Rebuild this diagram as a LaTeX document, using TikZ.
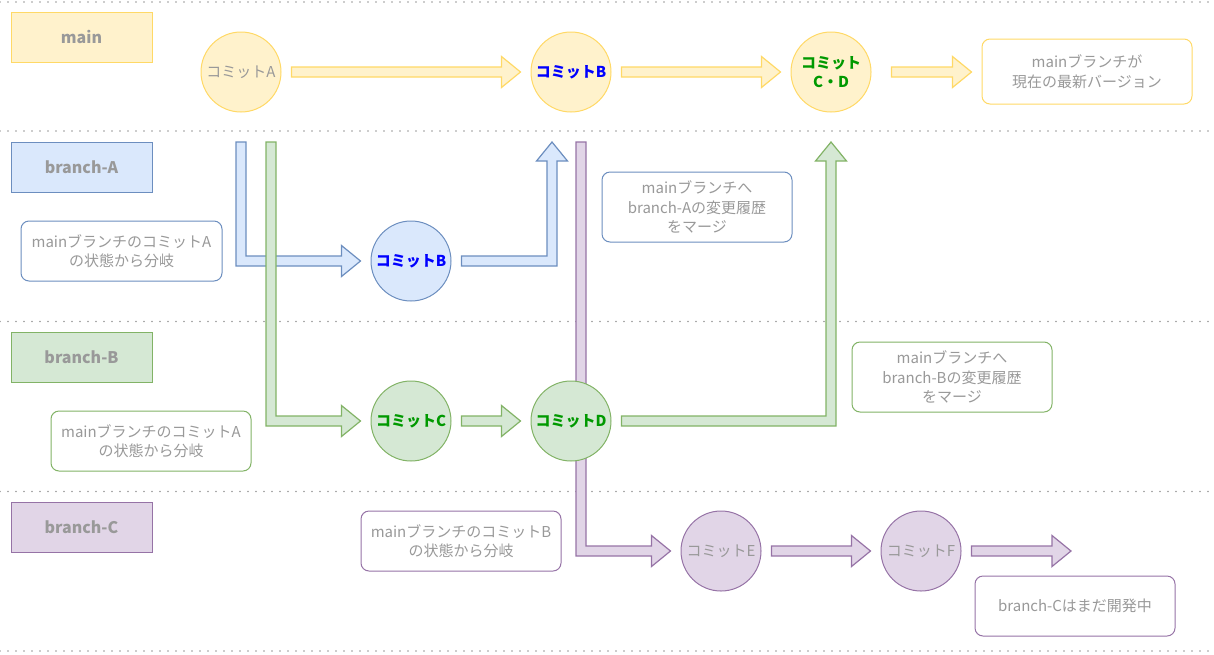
\documentclass[tikz,border=0pt]{standalone}
\usepackage{fontspec}
\setmainfont{Noto Sans CJK JP}
\usetikzlibrary{calc}

\definecolor{ylwfill}{HTML}{FFF2CC}
\definecolor{ylwline}{HTML}{FFD966}
\definecolor{bluefill}{HTML}{DAE8FC}
\definecolor{blueline}{HTML}{6C8EBF}
\definecolor{grnfill}{HTML}{D5E8D4}
\definecolor{grnline}{HTML}{82B366}
\definecolor{purfill}{HTML}{E1D5E7}
\definecolor{purline}{HTML}{9673A6}
\definecolor{txtgray}{HTML}{999999}
\definecolor{bluetxt}{HTML}{0000FF}
\definecolor{grntxt}{HTML}{009900}

\pgfdeclarelayer{background}
\pgfsetlayers{background,main}

% fat arrows: straight, down-then-right, right-then-up
\newcommand{\flexright}[3]{\filldraw[#1] let \p1=#2, \p2=#3 in
  (\x1,\y1+5pt) -- (\x2-19pt,\y1+5pt) -- (\x2-19pt,\y1+15.5pt) -- (\x2,\y1)
  -- (\x2-19pt,\y1-15.5pt) -- (\x2-19pt,\y1-5pt) -- (\x1,\y1-5pt) -- cycle;}
\newcommand{\flexdownright}[3]{\filldraw[#1] let \p1=#2, \p2=#3 in
  (\x1-5pt,\y1) -- (\x1+5pt,\y1) -- (\x1+5pt,\y2+5pt) -- (\x2-19pt,\y2+5pt)
  -- (\x2-19pt,\y2+15.5pt) -- (\x2,\y2) -- (\x2-19pt,\y2-15.5pt)
  -- (\x2-19pt,\y2-5pt) -- (\x1-5pt,\y2-5pt) -- cycle;}
\newcommand{\flexrightup}[3]{\filldraw[#1] let \p1=#2, \p2=#3 in
  (\x1,\y1+5pt) -- (\x2-5pt,\y1+5pt) -- (\x2-5pt,\y2-19pt) -- (\x2-15.5pt,\y2-19pt)
  -- (\x2,\y2) -- (\x2+15.5pt,\y2-19pt) -- (\x2+5pt,\y2-19pt)
  -- (\x2+5pt,\y1-5pt) -- (\x1,\y1-5pt) -- cycle;}

\begin{document}
\begin{tikzpicture}[x=1pt,y=-1pt,line width=1pt,
  sep line/.style={draw=txtgray, line width=1.6pt, line cap=round, dash pattern=on 0pt off 8pt},
  lane/.style={draw, minimum width=141pt, minimum height=50pt, inner sep=0pt,
    font=\fontsize{16}{18}\selectfont\bfseries, text=txtgray},
  commit/.style={circle, draw, minimum size=80pt, inner sep=0pt, align=center,
    font=\fontsize{15}{19}\selectfont, text=txtgray},
  bold commit/.style={commit, font=\fontsize{15}{19}\selectfont\bfseries},
  memo/.style={draw, rounded corners=8pt, fill=white, align=center, inner sep=0pt,
    font=\fontsize{15}{19.5}\selectfont, text=txtgray},
  ylw/.style={fill=ylwfill, draw=ylwline},
  blu/.style={fill=bluefill, draw=blueline},
  grn/.style={fill=grnfill, draw=grnline},
  pur/.style={fill=purfill, draw=purline},
  fat arrow/.style={line width=1.2pt, line join=miter}]
  \useasboundingbox (0,0) rectangle (1214,654);

  \node[lane, ylw] (main) at (81.5,37) {main};
  \node[lane, blu] (brA) at (81.5,167) {branch-A};
  \node[lane, grn] (brB) at (81.5,357) {branch-B};
  \node[lane, pur] (brC) at (81.5,527) {branch-C};

  \node[commit, ylw] (mA) at (241,72) {コミットA};
  \node[bold commit, ylw, text=bluetxt] (mB) at (571,72) {コミットB};
  \node[bold commit, ylw, text=grntxt] (mCD) at (831,72) {コミット\\C・D};
  \node[memo, draw=ylwline, minimum width=210pt, minimum height=65pt] (latest) at (1087,71.5) {mainブランチが\\現在の最新バージョン};

  \coordinate (outA) at (241,142);
  \coordinate (outB) at (271,142);
  \coordinate (outC) at (581,142);
  \coordinate (inA) at (552,142);
  \coordinate (inB) at (831,142);
  \coordinate (endC) at (1071,551);

  \node[bold commit, blu, text=bluetxt] (cB) at (411,261) {コミットB};
  \node[bold commit, grn, text=grntxt] (cC) at (411,421) {コミットC};
  \node[bold commit, grn, text=grntxt] (cD) at (571,421) {コミットD};
  \node[commit, pur] (cE) at (721,551) {コミットE};
  \node[commit, pur] (cF) at (921,551) {コミットF};

  \node[memo, draw=blueline, minimum width=201pt, minimum height=60pt] (noteA) at (121.5,251) {mainブランチのコミットA\\の状態から分岐};
  \node[memo, draw=blueline, minimum width=190pt, minimum height=70pt] (mergeA) at (697,207) {mainブランチへ\\branch-Aの変更履歴\\をマージ};
  \node[memo, draw=grnline, minimum width=200pt, minimum height=60pt] (noteB) at (151,441) {mainブランチのコミットA\\の状態から分岐};
  \node[memo, draw=grnline, minimum width=200pt, minimum height=70pt] (mergeB) at (952,377) {mainブランチへ\\branch-Bの変更履歴\\をマージ};
  \node[memo, draw=purline, minimum width=200pt, minimum height=60pt] (noteC) at (461,541) {mainブランチのコミットB\\の状態から分岐};
  \node[memo, draw=purline, minimum width=200pt, minimum height=60pt] (devC) at (1075,606) {branch-Cはまだ開発中};

  \begin{pgfonlayer}{background}
    \foreach \y in {2,131,321.5,491.5,651}
      \draw[sep line] (0,\y) -- (1214,\y);

    \flexright{fat arrow, ylw}{($(mA.east)+(10,0)$)}{($(mB.west)-(10,0)$)}
    \flexright{fat arrow, ylw}{($(mB.east)+(10,0)$)}{($(mCD.west)-(10,0)$)}
    \flexright{fat arrow, ylw}{($(mCD.east)+(20,0)$)}{($(latest.west)-(10,0)$)}

    \flexdownright{fat arrow, blu}{(outA)}{($(cB.west)-(10,0)$)}
    \flexrightup{fat arrow, blu}{($(cB.east)+(10,0)$)}{(inA)}
    \flexdownright{fat arrow, grn}{(outB)}{($(cC.west)-(10,0)$)}
    \flexright{fat arrow, grn}{($(cC.east)+(10,0)$)}{($(cD.west)-(10,0)$)}
    \flexrightup{fat arrow, grn}{($(cD.east)+(10,0)$)}{(inB)}
    \flexdownright{fat arrow, pur}{(outC)}{($(cE.west)-(10,0)$)}
    \flexright{fat arrow, pur}{($(cE.east)+(10,0)$)}{($(cF.west)-(10,0)$)}
    \flexright{fat arrow, pur}{($(cF.east)+(10,0)$)}{(endC)}
  \end{pgfonlayer}
\end{tikzpicture}
\end{document}
